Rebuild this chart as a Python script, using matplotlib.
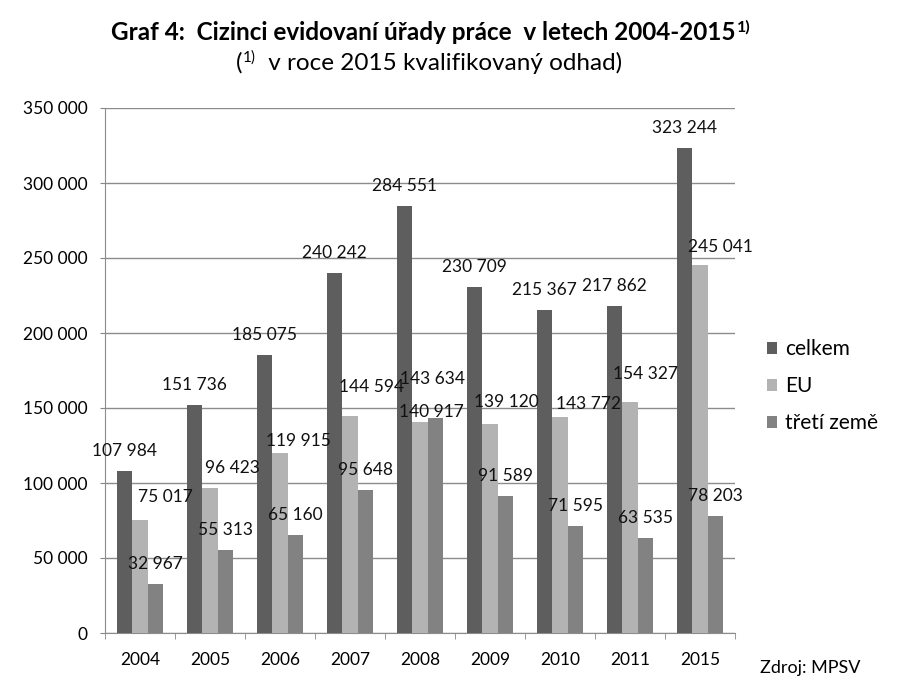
import matplotlib
matplotlib.use("Agg")
import matplotlib.pyplot as plt
import numpy as np

years = ["2004", "2005", "2006", "2007", "2008", "2009", "2010", "2011", "2015"]
celkem = [107984, 151736, 185075, 240242, 284551, 230709, 215367, 217862, 323244]
eu = [75017, 96423, 119915, 144594, 140917, 139120, 143772, 154327, 245041]
treti = [32967, 55313, 65160, 95648, 143634, 91589, 71595, 63535, 78203]
series_names = ["celkem", "EU", "třetí země"]
colors = ["#5e5e5e", "#b3b3b3", "#828282"]
yticks = [0, 50000, 100000, 150000, 200000, 250000, 300000, 350000]

# label nudges (pixels) as placed in the original chart
nudges = [
    [(0, 0)] * 9,
    [(25, 3), (22, 0), (18, -8), (22, 9), (11, -10), (16, 2), (28, -7), (15, 8), (20, -2)],
    [(0, 0), (0, 0), (0, 0), (0, 0), (-3, 19), (0, 0), (0, 0), (0, 0), (0, 0)],
]

plt.rcParams['font.family'] = ['Lato', 'DejaVu Sans']

def fmt(v):
    return f"{v:,}".replace(",", " ")

W, H = 902, 686
fig = plt.figure(figsize=(W / 100, H / 100), dpi=100)
ax = fig.add_axes([105 / W, 53 / H, 630 / W, 525 / H])

x = np.arange(len(years))
w = 0.22
data = [celkem, eu, treti]
for i, (vals, c, name) in enumerate(zip(data, colors, series_names)):
    pos = x + (i - 1) * w
    ax.bar(pos, vals, width=w, color=c, label=name, zorder=3)
    for j, (p, v) in enumerate(zip(pos, vals)):
        dx, dy = nudges[i][j]
        ax.annotate(fmt(v), (p, v), xytext=(dx, 20 + dy), textcoords="offset pixels",
                    ha="center", va="center", fontsize=12.5, color="#111111", zorder=5)

ax.set_xlim(-0.5, len(years) - 0.5)
ax.set_ylim(0, 350000)
ax.set_yticks(yticks)
ax.set_yticklabels([fmt(t) for t in yticks], fontsize=12.5)
ax.set_xticks(x)
ax.set_xticklabels(years, fontsize=12.5)
ax.set_xticks(np.arange(-0.5, len(years)), minor=True)
ax.tick_params(axis='x', which='major', length=0, pad=14)
ax.tick_params(axis='x', which='minor', length=4.5, color="#888888")
ax.tick_params(axis='y', length=3.6, color="#888888", pad=9)
ax.grid(axis='y', color="#8c8c8c", linewidth=1, zorder=0)
for s in ["top", "right"]:
    ax.spines[s].set_visible(False)
for s in ["left", "bottom"]:
    ax.spines[s].set_color("#8c8c8c")

leg = fig.legend(loc="upper left", bbox_to_anchor=(767 / W, 1 - 339 / H), frameon=False,
                 fontsize=15, handlelength=0.5, handleheight=0.5, handletextpad=0.35,
                 labelspacing=0.82, borderpad=0, borderaxespad=0)

fig.text(760 / W, 1 - 668 / H, "Zdroj: MPSV", ha="left", va="center", fontsize=13)

fig.canvas.draw()
r = fig.canvas.get_renderer()

def place_run(pieces, center_x, baseline_y):
    # pieces: list of (text, fontsize, weight, raise_px, gap_px)
    objs = []
    for (t, fs, wt, rz, gap) in pieces:
        objs.append(fig.text(0, 0, t, fontsize=fs, fontweight=wt, ha="left", va="baseline"))
    fig.canvas.draw()
    widths = [o.get_window_extent(r).width for o in objs]
    total = sum(widths) + sum(p[4] for p in pieces)
    xcur = center_x - total / 2
    for o, wd, p in zip(objs, widths, pieces):
        xcur += p[4]
        o.set_position((xcur / W, 1 - (baseline_y - p[3]) / H))
        xcur += wd

place_run([("Graf 4:  Cizinci evidovaní úřady práce  v letech 2004-2015", 17.5, "bold", 0, 0),
           ("1)", 11.5, "bold", 8, 1)], 431, 40)
place_run([("(", 17.5, "normal", 0, 0),
           ("1)", 11, "normal", 8, 1),
           (" v roce 2015 kvalifikovaný odhad)", 17.5, "normal", 0, 6)], 429, 70)

fig.savefig("out.png", dpi=100)
